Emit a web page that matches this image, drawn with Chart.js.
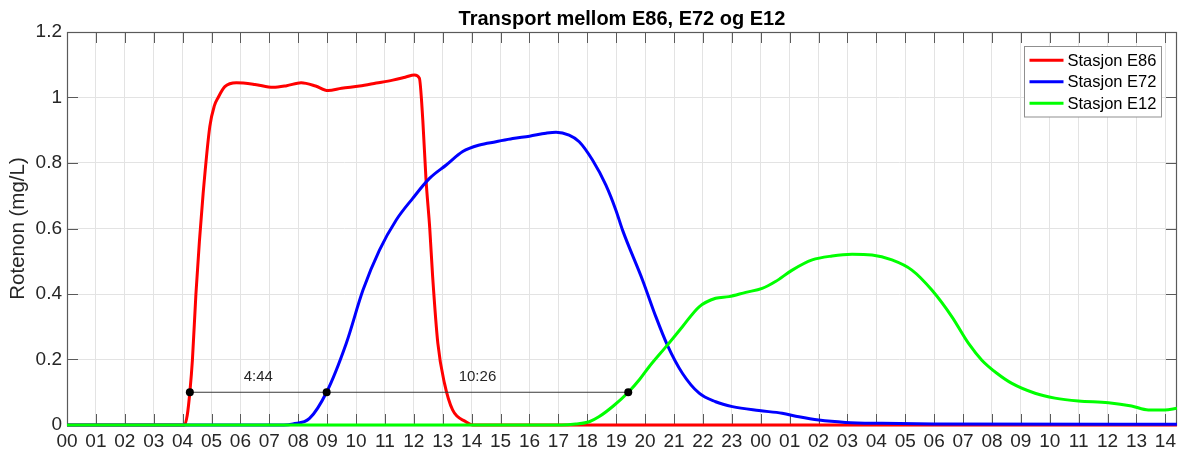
<!DOCTYPE html>
<html>
<head>
<meta charset="utf-8">
<script src="https://cdn.jsdelivr.net/npm/chart.js@4"></script>
<style>
  html, body { margin: 0; padding: 0; background: #ffffff; }
  canvas { display: block; }
</style>
</head>
<body>
<canvas id="c" width="1181" height="452"></canvas>
<script>
// ---------- data (hours since 00:00 of day 1) ----------
const xTickLabels = ['00','01','02','03','04','05','06','07','08','09','10','11','12','13','14','15','16','17','18','19','20','21','22','23',
                     '00','01','02','03','04','05','06','07','08','09','10','11','12','13','14'];
const yTickValues = [0, 0.2, 0.4, 0.6, 0.8, 1, 1.2];
const yTickLabels = ['0', '0.2', '0.4', '0.6', '0.8', '1', '1.2'];
const seriesNames = ['Stasjon E86', 'Stasjon E72', 'Stasjon E12'];

const e86Hours = [0, 4.06, 4.16, 4.25, 4.34, 4.46, 4.58, 4.71, 4.94, 5.1, 5.23, 5.46, 5.86, 6.5, 7.13, 7.6, 8.1, 8.6, 9.03, 9.5, 10.12, 10.7, 11.27, 11.7, 12.02, 12.19, 12.31, 12.42, 12.55, 12.65, 12.83, 13.06, 13.34, 13.8, 14.03, 38.4];
const e86Values = [0, 0, 0.03, 0.1, 0.2, 0.4, 0.56, 0.707, 0.911, 0.975, 1.0, 1.033, 1.045, 1.04, 1.031, 1.036, 1.045, 1.035, 1.021, 1.028, 1.035, 1.044, 1.053, 1.062, 1.069, 1.059, 0.93, 0.75, 0.6, 0.453, 0.249, 0.127, 0.046, 0.01, 0, 0];

const e72Hours = [0, 7.5, 7.82, 8.39, 8.98, 9.66, 10.24, 10.81, 11.39, 11.96, 12.54, 13.12, 13.69, 14.27, 14.84, 15.42, 16.0, 16.57, 16.92, 17.37, 17.72, 18.18, 18.64, 18.99, 19.22, 19.91, 20.37, 20.77, 21.29, 21.87, 22.44, 23.02, 23.94, 24.74, 25.32, 26.01, 26.93, 28.2, 30, 38.4];
const e72Values = [0, 0, 0.003, 0.02, 0.1, 0.249, 0.412, 0.534, 0.626, 0.692, 0.753, 0.794, 0.835, 0.855, 0.865, 0.875, 0.882, 0.891, 0.894, 0.885, 0.865, 0.809, 0.733, 0.656, 0.595, 0.443, 0.331, 0.244, 0.158, 0.097, 0.071, 0.056, 0.044, 0.036, 0.025, 0.015, 0.008, 0.005, 0.003, 0.002];

const e12Hours = [0, 17.1, 17.6, 18.07, 18.4, 18.9, 19.42, 19.8, 20.14, 20.77, 21.29, 21.87, 22.44, 22.9, 23.48, 24.05, 24.51, 25.09, 25.78, 26.47, 27.16, 27.85, 28.54, 29.23, 29.92, 30.61, 31.19, 31.65, 32.17, 32.69, 33.49, 34.18, 34.99, 36.03, 36.83, 37.41, 37.98, 38.4];
const e12Values = [0, 0, 0.003, 0.01, 0.025, 0.058, 0.1, 0.138, 0.178, 0.244, 0.3, 0.361, 0.387, 0.392, 0.405, 0.417, 0.438, 0.473, 0.504, 0.516, 0.521, 0.519, 0.504, 0.473, 0.412, 0.331, 0.249, 0.198, 0.158, 0.127, 0.097, 0.082, 0.073, 0.068, 0.058, 0.046, 0.046, 0.051];

// threshold crossings at 0.1 mg/L (hours): E86 04:15, E72 08:59, E12 19:25
const crossingHours = [4.25, 8.9833, 19.4167];
const thresholdValue = 0.1;

// ---------- helpers ----------
const FONT = "'Liberation Sans', Arial, Helvetica, sans-serif";
const toPoints = (xs, ys) => xs.map((x, i) => ({ x: x, y: ys[i] }));
const fmtDuration = h => {
  const mins = Math.round(h * 60);
  return Math.floor(mins / 60) + ':' + String(mins % 60).padStart(2, '0');
};
const AXIS = '#5a5a5a';

// box + inward ticks (MATLAB style)
const boxPlugin = {
  id: 'box',
  beforeDatasetsDraw(chart) {
    const { ctx, chartArea: a, scales } = chart;
    ctx.save();
    ctx.strokeStyle = AXIS;
    ctx.lineWidth = 1;
    ctx.beginPath();
    const tl = 11;
    scales.x.ticks.forEach(t => {
      const px = Math.round(scales.x.getPixelForValue(t.value)) + 0.5;
      ctx.moveTo(px, a.bottom); ctx.lineTo(px, a.bottom - tl);
      ctx.moveTo(px, a.top); ctx.lineTo(px, a.top + tl);
    });
    scales.y.ticks.forEach(t => {
      const py = Math.round(scales.y.getPixelForValue(t.value)) + 0.5;
      ctx.moveTo(a.left, py); ctx.lineTo(a.left + tl, py);
      ctx.moveTo(a.right, py); ctx.lineTo(a.right - tl, py);
    });
    ctx.stroke();
    ctx.lineWidth = 1.2;
    ctx.strokeRect(Math.round(a.left) + 0.5, Math.round(a.top) + 0.5, Math.round(a.right - a.left) - 1, Math.round(a.bottom - a.top));
    ctx.restore();
  }
};

// duration labels over the threshold segments
const durationPlugin = {
  id: 'durations',
  afterDatasetsDraw(chart) {
    const { ctx, scales } = chart;
    ctx.save();
    ctx.fillStyle = '#262626';
    ctx.font = '15px ' + FONT;
    ctx.textAlign = 'center';
    ctx.textBaseline = 'middle';
    for (let i = 0; i < crossingHours.length - 1; i++) {
      const a = crossingHours[i], b = crossingHours[i + 1];
      const px = scales.x.getPixelForValue((a + b) / 2);
      const py = scales.y.getPixelForValue(thresholdValue) - 15;
      ctx.fillText(fmtDuration(b - a), px, py);
    }
    ctx.restore();
  }
};

// legend box in the upper right of the plot
const legendBoxPlugin = {
  id: 'legendBox',
  afterDraw(chart) {
    const { ctx, chartArea: a } = chart;
    const items = chart.data.datasets.filter(d => d.label && !d.hideInLegend);
    ctx.save();
    ctx.font = '16.5px ' + FONT;
    const textW = Math.max(...items.map(d => ctx.measureText(d.label).width));
    const sample = 34, gap = 4, padL = 5, padR = 5, rowH = 21.5, padV = 3;
    const w = padL + sample + gap + textW + padR;
    const h = items.length * rowH + padV * 2;
    const x0 = Math.round(a.right - 16 - w) + 0.5;
    const y0 = Math.round(a.top + 14) + 0.5;
    ctx.fillStyle = '#ffffff';
    ctx.fillRect(x0, y0, w, h);
    ctx.strokeStyle = '#8f8f8f';
    ctx.lineWidth = 1;
    ctx.strokeRect(x0, y0, w, h);
    items.forEach((d, i) => {
      const cy = y0 + padV + rowH * (i + 0.5);
      ctx.strokeStyle = d.borderColor;
      ctx.lineWidth = 3;
      ctx.beginPath();
      ctx.moveTo(x0 + padL, cy); ctx.lineTo(x0 + padL + sample, cy);
      ctx.stroke();
      ctx.fillStyle = '#000000';
      ctx.textAlign = 'left';
      ctx.textBaseline = 'middle';
      ctx.fillText(d.label, x0 + padL + sample + gap, cy + 1);
    });
    ctx.restore();
  }
};

const lineDefaults = { borderWidth: 3, pointRadius: 0, fill: false, cubicInterpolationMode: 'monotone', clip: false };

new Chart(document.getElementById('c'), {
  type: 'line',
  data: {
    datasets: [
      Object.assign({ label: seriesNames[0], data: toPoints(e86Hours, e86Values), borderColor: '#ff0000', order: 3 }, lineDefaults),
      Object.assign({ label: seriesNames[1], data: toPoints(e72Hours, e72Values), borderColor: '#0000ff', order: 2 }, lineDefaults),
      Object.assign({ label: seriesNames[2], data: toPoints(e12Hours, e12Values), borderColor: '#00ff00', order: 1 }, lineDefaults),
      {
        label: '', hideInLegend: true, order: 0,
        data: crossingHours.map(h => ({ x: h, y: thresholdValue })),
        borderColor: '#3a3a3a', borderWidth: 1, tension: 0,
        pointRadius: 4, pointBackgroundColor: '#000000', pointBorderColor: '#000000', pointBorderWidth: 0,
        clip: false
      }
    ]
  },
  options: {
    responsive: false,
    animation: false,
    events: [],
    layout: { padding: { left: 0, right: 2, top: 0, bottom: 0 } },
    plugins: {
      legend: { display: false },
      tooltip: { enabled: false },
      title: {
        display: true,
        fullSize: false,
        text: 'Transport mellom E86, E72 og E12',
        color: '#000000',
        font: { family: FONT, size: 20, weight: 'bold' },
        padding: { top: 7, bottom: 1 }
      }
    },
    scales: {
      x: {
        type: 'linear',
        min: 0,
        max: 38.4,
        afterBuildTicks: s => { s.ticks = xTickLabels.map((_, i) => ({ value: i })); },
        afterFit: s => { s.height = 27; },
        ticks: {
          callback: (v, i) => xTickLabels[i],
          autoSkip: false, maxRotation: 0, minRotation: 0,
          color: '#262626',
          font: { family: FONT, size: 19 },
          padding: 5
        },
        grid: { color: '#e3e3e3', lineWidth: 1, drawTicks: false },
        border: { display: false }
      },
      y: {
        type: 'linear',
        min: 0,
        max: 1.2,
        afterBuildTicks: s => { s.ticks = yTickValues.map(v => ({ value: v })); },
        afterFit: s => { s.width = 67; },
        ticks: {
          callback: (v, i) => yTickLabels[i],
          color: '#262626',
          font: { family: FONT, size: 19 },
          padding: 5
        },
        grid: { color: '#e3e3e3', lineWidth: 1, drawTicks: false },
        border: { display: false },
        title: {
          display: true,
          text: 'Rotenon (mg/L)',
          color: '#262626',
          font: { family: FONT, size: 20.5 },
          padding: { top: 6, bottom: 0 }
        }
      }
    }
  },
  plugins: [boxPlugin, durationPlugin, legendBoxPlugin]
});
</script>
</body>
</html>
